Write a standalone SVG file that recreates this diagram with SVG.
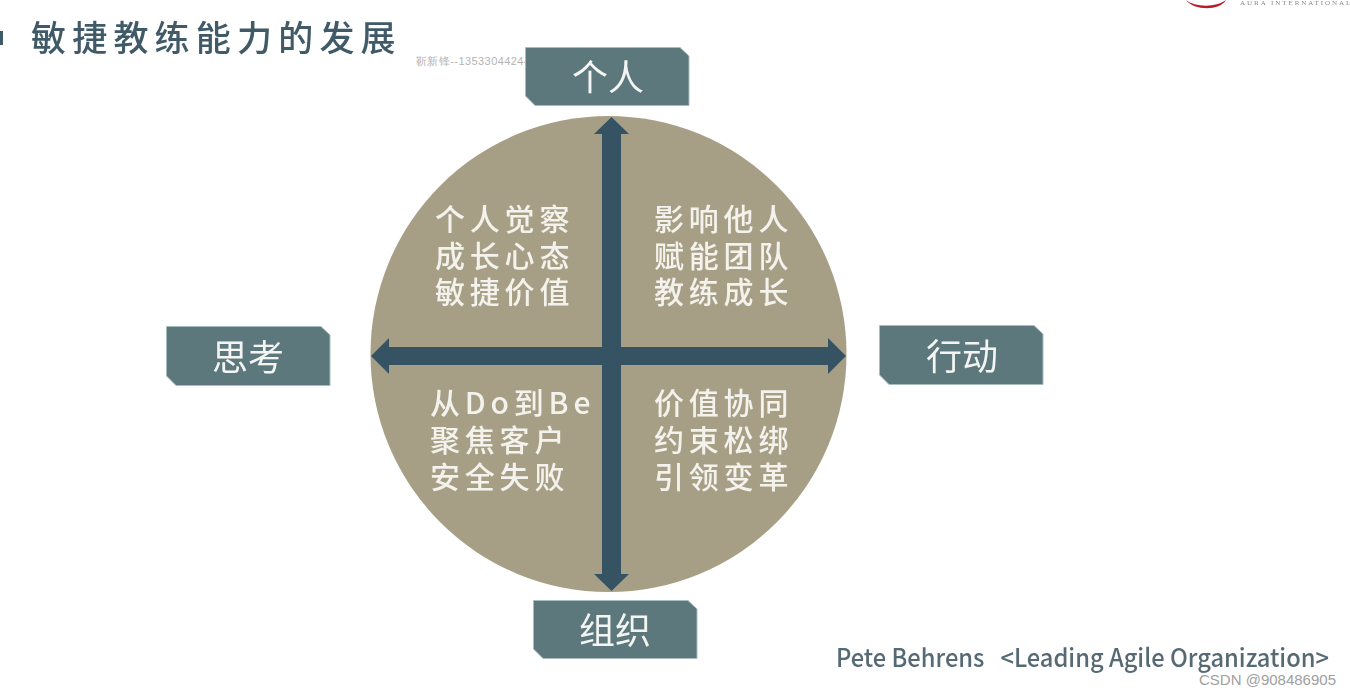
<svg xmlns="http://www.w3.org/2000/svg" width="1350" height="695" viewBox="0 0 1350 695">
<style>
text{font-family:"Noto Sans CJK SC","Noto Sans",sans-serif}
.box{fill:#5b787c;stroke:#a9bcbf;stroke-width:1}
.lab{fill:#f4f5f3;font-size:36px;text-anchor:middle}
.q{fill:#f3f2ec;font-size:30px;letter-spacing:4.8px;font-weight:500}
.wm{font-family:"Liberation Sans",sans-serif;fill:#b4b4b4}
.ar{fill:#365263}
</style>
<defs><filter id="b" x="-5%" y="-5%" width="110%" height="110%"><feGaussianBlur stdDeviation="0.6"/></filter></defs>
<rect width="1350" height="695" fill="#fff"/>
<g id="header" filter="url(#b)">
<rect x="-2" y="31" width="5" height="14" fill="#3f5a68"/>
<text x="31" y="51" font-size="35" letter-spacing="6.2" font-weight="500" fill="#3f5a68">敏捷教练能力的发展</text>
<path d="M1186 0C1194 7 1216 8 1226 0C1220 11 1194 11 1186 0Z" fill="#b81c2c"/>
<text x="1240" y="5" font-size="7" letter-spacing="1.95" style="font-family:'Liberation Serif',serif" fill="#8a8a8a">AURA INTERNATIONAL</text>
</g>
<text class="wm" x="416" y="65" font-size="11" textLength="114" lengthAdjust="spacing">靳新锋--13533044244</text>
<circle id="circle" cx="608.5" cy="354" r="238" fill="#a69e85" filter="url(#b)"/>
<g id="connectors" filter="url(#b)">
<path class="ar" d="M611.500 117L629 134H621V574H629L611.500 591L594 574H602V134H594Z"/>
<path class="ar" d="M371 356L389 338V347H828V338L846 356L828 374V365H389V374Z"/>
</g>
<g id="node-person" filter="url(#b)">
<path class="box" d="M525.500 47.500H680L689 56V105.500H535L525.500 96Z"/>
<text class="lab" x="608" y="91">个人</text>
</g>
<g id="node-think" filter="url(#b)">
<path class="box" d="M166.500 326.500H321L330 335V385.500H176L166.500 376Z"/>
<text class="lab" x="248" y="371">思考</text>
</g>
<g id="node-act" filter="url(#b)">
<path class="box" d="M879.500 325.500H1034L1043 334V384.500H889L879.500 375Z"/>
<text class="lab" x="962" y="370">行动</text>
</g>
<g id="node-org" filter="url(#b)">
<path class="box" d="M533.500 600.500H688L697 609V658.500H543L533.500 649Z"/>
<text class="lab" x="615" y="644">组织</text>
</g>
<g id="q1" filter="url(#b)">
<text class="q" x="435" y="230">个人觉察</text>
<text class="q" x="435" y="267">成长心态</text>
<text class="q" x="435" y="303">敏捷价值</text>
</g>
<g id="q2" filter="url(#b)">
<text class="q" x="654" y="230">影响他人</text>
<text class="q" x="654" y="267">赋能团队</text>
<text class="q" x="654" y="303">教练成长</text>
</g>
<g id="q3" filter="url(#b)">
<text class="q" x="430" y="414">从Do到Be</text>
<text class="q" x="430" y="451">聚焦客户</text>
<text class="q" x="430" y="488">安全失败</text>
</g>
<g id="q4" filter="url(#b)">
<text class="q" x="654" y="414">价值协同</text>
<text class="q" x="654" y="451">约束松绑</text>
<text class="q" x="654" y="488">引领变革</text>
</g>
<text x="836" y="667" font-size="25" font-weight="500" fill="#566a74" filter="url(#b)" textLength="493" lengthAdjust="spacingAndGlyphs" xml:space="preserve">Pete Behrens   &lt;Leading Agile Organization&gt;</text>
<text class="wm" x="1199" y="685" font-size="15" style="fill:#a0a0a0">CSDN @908486905</text>
</svg>
